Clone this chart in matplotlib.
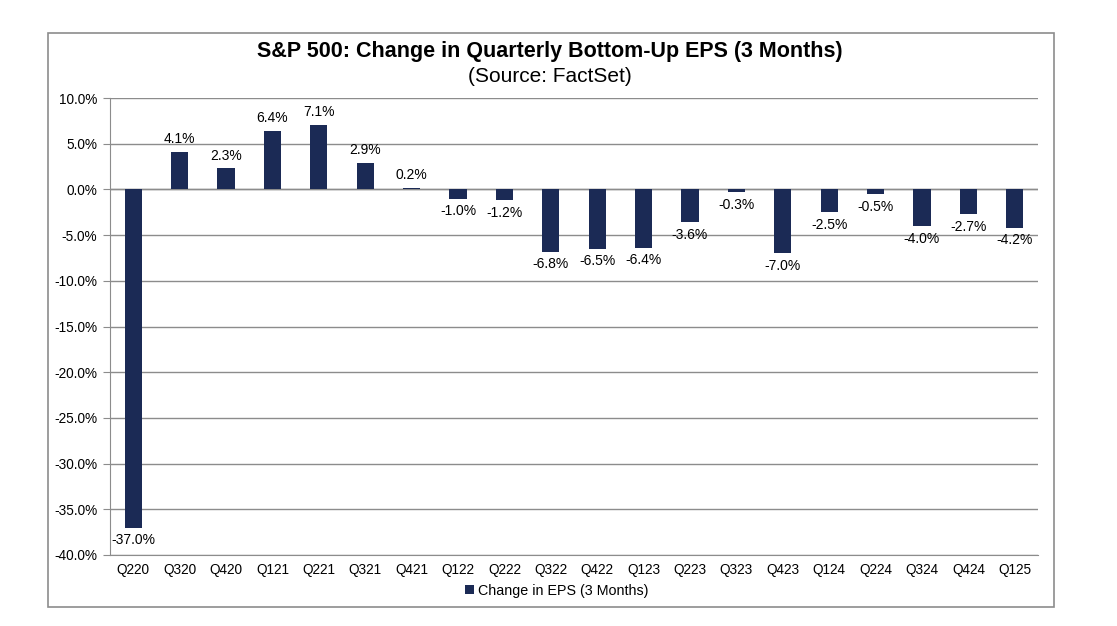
import matplotlib
matplotlib.use("Agg")
import matplotlib.pyplot as plt
from matplotlib.patches import Rectangle
from matplotlib.ticker import FuncFormatter, MultipleLocator

quarters = ["Q220", "Q320", "Q420", "Q121", "Q221", "Q321", "Q421", "Q122", "Q222", "Q322",
            "Q422", "Q123", "Q223", "Q323", "Q423", "Q124", "Q224", "Q324", "Q424", "Q125"]
eps_change = [-37.0, 4.1, 2.3, 6.4, 7.1, 2.9, 0.2, -1.0, -1.2, -6.8,
              -6.5, -6.4, -3.6, -0.3, -7.0, -2.5, -0.5, -4.0, -2.7, -4.2]
series_name = "Change in EPS (3 Months)"
title = "S&P 500: Change in Quarterly Bottom-Up EPS (3 Months)"
subtitle = "(Source: FactSet)"

plt.rcParams['font.family'] = ['Liberation Sans', 'DejaVu Sans']

W, H = 1117, 626
fig = plt.figure(figsize=(W / 100, H / 100), dpi=100)
fig.patch.set_facecolor("white")

# outer chart border
fig.patches.append(Rectangle((48 / W, 1 - 607 / H), (1054 - 48) / W, (607 - 33) / H,
                             transform=fig.transFigure, fill=False, edgecolor="#8c8c8c", lw=1.2))

ax = fig.add_axes([110 / W, 1 - 555 / H, (1038 - 110) / W, (555 - 98) / H])
navy = "#1b2a55"
x = list(range(len(quarters)))
ax.bar(x, eps_change, width=0.37, color=navy, zorder=3, label=series_name)

ax.set_xlim(-0.5, len(quarters) - 0.5)
ax.set_ylim(-40, 10)
ax.yaxis.set_major_locator(MultipleLocator(5))
ax.yaxis.set_major_formatter(FuncFormatter(lambda v, p: f"{v:.1f}%"))
ax.grid(axis="y", color="#8c8c8c", lw=1.0, zorder=0)
ax.axhline(0, color="#8c8c8c", lw=1.0, zorder=1)
for s in ["top", "right"]:
    ax.spines[s].set_visible(False)
ax.spines["left"].set_color("#8c8c8c")
ax.spines["bottom"].set_color("#8c8c8c")
ax.tick_params(axis="y", length=5, color="#8c8c8c", labelsize=9.8, pad=4)
ax.tick_params(axis="x", length=0, labelsize=9.8, pad=6)
ax.set_xticks(x)
ax.set_xticklabels(quarters)

for xi, v in zip(x, eps_change):
    if v >= 0:
        ax.annotate(f"{v:.1f}%", (xi, v), xytext=(0, 4), textcoords="offset points",
                    ha="center", va="bottom", fontsize=10, zorder=4)
    else:
        ax.annotate(f"{v:.1f}%", (xi, v), xytext=(0, -4), textcoords="offset points",
                    ha="center", va="top", fontsize=10, zorder=4)

fig.text(550 / W, 1 - 52 / H, title, ha="center", va="center", fontsize=15.5, fontweight="bold")
fig.text(550 / W, 1 - 76 / H, subtitle, ha="center", va="center", fontsize=15)

fig.legend(loc="center", bbox_to_anchor=(557 / W, 1 - 591 / H), frameon=False, fontsize=10.3,
           handlelength=0.6, handleheight=0.6, handletextpad=0.3)

fig.savefig("out.png", dpi=100)
